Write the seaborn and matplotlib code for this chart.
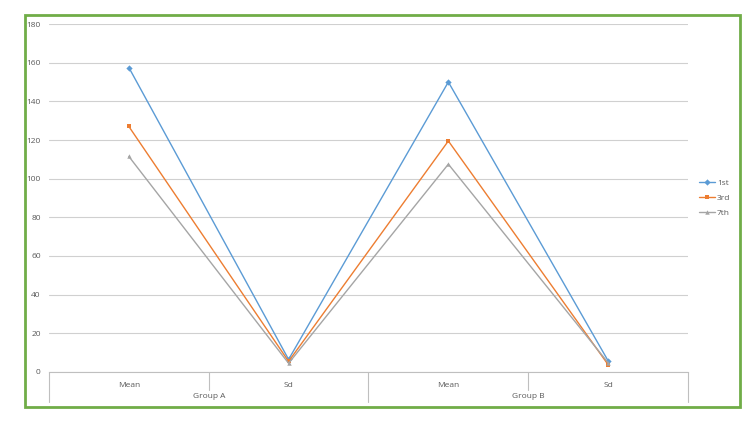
import numpy as np
import pandas as pd
import seaborn as sns
import matplotlib.pyplot as plt
import matplotlib.transforms as mtransforms
from matplotlib.patches import Rectangle

# data
categories = ['Mean', 'Sd', 'Mean', 'Sd']
groups = ['Group A', 'Group B']
series = ['1st', '3rd', '7th']
vals_1st = [157.5, 6.5, 150.0, 5.8]
vals_3rd = [127.0, 5.5, 119.5, 3.8]
vals_7th = [111.5, 4.5, 107.5, 4.8]

colors = {'1st': '#5B9BD5', '3rd': '#ED7D31', '7th': '#A5A5A5'}
markers = {'1st': 'D', '3rd': 's', '7th': '^'}

keys = [f'{g} {c}' for g in groups for c in categories[:2]]
df = pd.DataFrame({
    'key': keys * 3,
    'value': vals_1st + vals_3rd + vals_7th,
    'series': [s for s in series for _ in keys],
})

sns.set_style('white')
plt.rcParams['font.family'] = ['Open Sans', 'DejaVu Sans']

fig = plt.figure(figsize=(7.5, 4.22), dpi=100)
ax = fig.add_axes([0.0653, 0.1185, 0.852, 0.8246])

# green outer frame
fig.patches.append(Rectangle((0.0333, 0.0355), 0.9534, 0.929, transform=fig.transFigure,
                             fill=False, edgecolor='#70AD47', linewidth=2))

sns.lineplot(data=df, x='key', y='value', hue='series', style='series', palette=colors,
             markers=markers, dashes=False, linewidth=1.0, markersize=3.2,
             markeredgewidth=0, sort=False, ax=ax)

ax.set_ylim(0, 180)
ax.set_xlim(-0.5, 3.5)
ax.set_yticks(np.arange(0, 181, 20))
ax.yaxis.grid(True, color='#D0D0D0', linewidth=0.8)
ax.set_axisbelow(True)
for s in ['left', 'right', 'top']:
    ax.spines[s].set_visible(False)
ax.spines['bottom'].set_color('#BFBFBF')
ax.spines['bottom'].set_linewidth(0.8)
ax.tick_params(axis='y', length=0, labelsize=6, labelcolor='#595959', pad=6)
ax.set_xticks(range(4))
ax.set_xticklabels(categories)
ax.tick_params(axis='x', length=0, labelsize=6, labelcolor='#595959', pad=7)
ax.set_xlabel('')
ax.set_ylabel('')

# group labels and separators below the axis
trans = mtransforms.blended_transform_factory(ax.transData, ax.transAxes)
for i, g in enumerate(groups):
    ax.text(2 * i + 0.5, -0.069, g, transform=trans, ha='center', va='center',
            fontsize=6, color='#595959')
for x in [-0.5, 1.5, 3.5]:
    ax.plot([x, x], [0, -0.086], transform=trans, color='#BFBFBF', lw=0.8, clip_on=False)
for x in [0.5, 2.5]:
    ax.plot([x, x], [0, -0.052], transform=trans, color='#BFBFBF', lw=0.8, clip_on=False)

leg = ax.legend(loc='center left', bbox_to_anchor=(1.005, 0.5), frameon=False,
                fontsize=6, handlelength=2.0, labelspacing=0.9, handletextpad=0.2)
for t in leg.get_texts():
    t.set_color('#595959')

fig.savefig('out.png', dpi=100)
